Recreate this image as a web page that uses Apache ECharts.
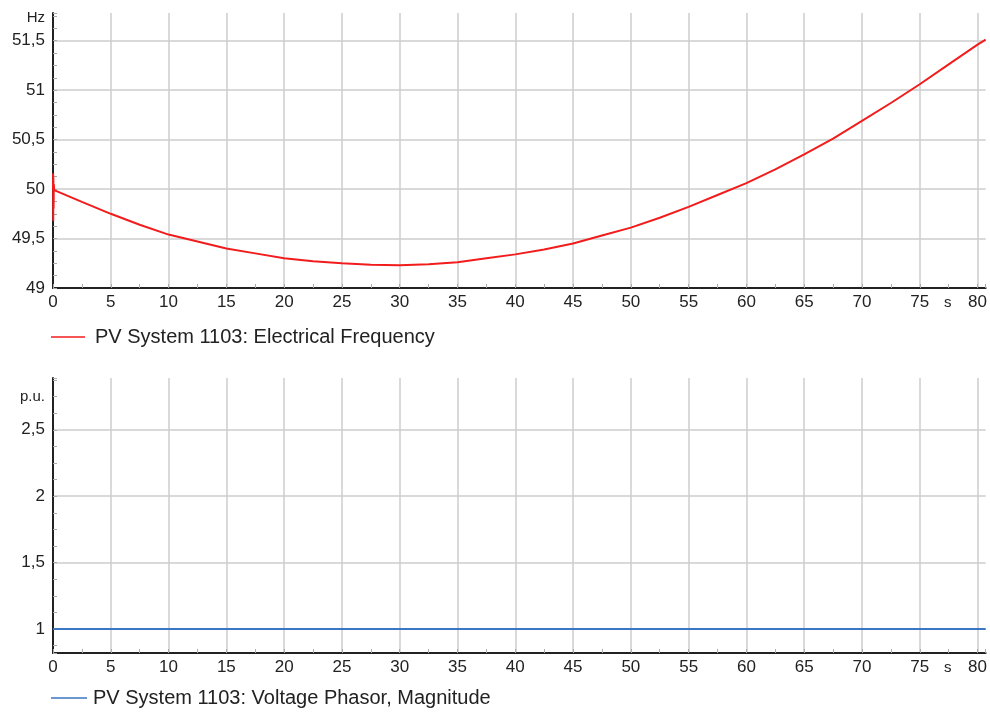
<!DOCTYPE html>
<html><head><meta charset="utf-8">
<script src="https://cdn.jsdelivr.net/npm/echarts@6/dist/echarts.min.js"></script>
<style>html,body{margin:0;padding:0;background:#fff}#c{width:990px;height:713px}</style>
</head><body><div id="c"></div>
<script>
// ---- data ----
const freqName = 'PV System 1103: Electrical Frequency';
const voltName = 'PV System 1103: Voltage Phasor, Magnitude';
const timeS  = [0, 0.01, 0.02, 0.03, 0.05, 0.07, 0.1, 2.5, 5, 7.5, 10, 12.5, 15, 17.5, 20, 22.5, 25, 27.5, 30, 32.5, 35, 37.5, 40, 42.5, 45, 47.5, 50, 52.5, 55, 57.5, 60, 62.5, 65, 67.5, 70, 72.5, 75, 77.5, 80, 80.7];
const freqHz = [50.0, 50.16, 49.68, 50.12, 49.8, 50.05, 49.99, 49.87, 49.75, 49.64, 49.54, 49.47, 49.40, 49.35, 49.30, 49.27, 49.25, 49.235, 49.23, 49.24, 49.26, 49.30, 49.34, 49.39, 49.45, 49.53, 49.61, 49.71, 49.82, 49.94, 50.06, 50.20, 50.35, 50.51, 50.69, 50.87, 51.06, 51.26, 51.46, 51.51];
const voltTimeS = [0, 20, 40, 60, 80.7];
const voltPU    = [1, 1, 1, 1, 1];
const xTickLabels = ['0','5','10','15','20','25','30','35','40','45','50','55','60','65','70','75','80'];
const freqTickLabels = ['49','49,5','50','50,5','51','51,5'];
const voltTickLabels = ['1','1,5','2','2,5'];

// ---- chart ----
const FONT = "'Liberation Sans', Arial, sans-serif";
const TXT = '#222';
const X_MAX = 80.7;
function multOf(v, step){ return Math.abs(v/step - Math.round(v/step)) < 1e-6; }
function fmtX(v){ if(!multOf(v,5)) return ''; const i = Math.round(v/5); return xTickLabels[i] !== undefined ? xTickLabels[i] : ''; }
function fmtY(labels, start){ return function(v){ if(!multOf(v,0.5)) return ''; const i = Math.round((v-start)/0.5); return labels[i] !== undefined ? labels[i] : ''; }; }
const freqData = timeS.map((t,i)=>[t,freqHz[i]]);
const voltData = voltTimeS.map((t,i)=>[t,voltPU[i]]);

function mainX(gi){
  return {gridIndex:gi, type:'value', min:0, max:X_MAX, interval:5,
    name:'s', nameLocation:'end', nameGap:-38,
    nameTextStyle:{color:TXT, fontFamily:FONT, fontSize:15, align:'center', verticalAlign:'top', padding:[7,0,0,0]},
    axisLine:{show:true, onZero:false, lineStyle:{color:'#222', width:2}},
    axisTick:{show:false},
    axisLabel:{color:TXT, fontFamily:FONT, fontSize:17, margin:6, showMaxLabel:false, formatter:fmtX},
    splitLine:{show:true, showMaxLine:false, showMinLine:false, lineStyle:{color:'#cccccc', width:1.5}}};
}
function minorX(gi){
  return {gridIndex:gi, type:'value', min:0, max:X_MAX, interval:2.5, position:'bottom',
    axisLine:{show:false}, axisLabel:{show:false}, splitLine:{show:false},
    axisTick:{show:true, inside:true, length:4, lineStyle:{color:'#aaaaaa'}}};
}
function mainY(gi, min, max, name, nameGap, labels, start){
  return {gridIndex:gi, type:'value', min:min, max:max, minInterval:0.5, maxInterval:0.5, splitNumber:5,
    name:name, nameLocation:'end', nameGap:nameGap,
    nameTextStyle:{color:TXT, fontFamily:FONT, fontSize:15, align:'right', verticalAlign:'middle', padding:[0,8,0,0]},
    axisLine:{show:true, onZero:false, lineStyle:{color:'#222', width:2}},
    axisTick:{show:false},
    axisLabel:{color:TXT, fontFamily:FONT, fontSize:17, margin:8, showMaxLabel:false, showMinLabel:true, formatter:fmtY(labels,start)},
    splitLine:{show:true, showMaxLine:false, showMinLine:false, lineStyle:{color:'#cccccc', width:1.5}}};
}
function minorY(gi, min, max){
  return {gridIndex:gi, type:'value', min:min, max:max, minInterval:0.125, maxInterval:0.125, splitNumber:20, position:'left',
    axisLine:{show:false}, axisLabel:{show:false}, splitLine:{show:false},
    axisTick:{show:true, inside:true, length:4, lineStyle:{color:'#aaaaaa'}}};
}

const chart = echarts.init(document.getElementById('c'), null, {renderer:'canvas'});
chart.setOption({
  backgroundColor:'#fff',
  animation:false,
  textStyle:{fontFamily:FONT},
  grid:[
    {left:53, right:2, top:13, height:275, containLabel:false},
    {left:53, right:2, top:378, height:275, containLabel:false}
  ],
  xAxis:[ mainX(0), minorX(0), mainX(1), minorX(1) ],
  yAxis:[
    mainY(0, 49, 51.78, 'Hz', -5, freqTickLabels, 49), minorY(0, 49, 51.78),
    mainY(1, 0.82, 2.89, 'p.u.', -19, voltTickLabels, 1), minorY(1, 0.82, 2.89)
  ],
  legend:[
    {data:[freqName], left:51, top:327, padding:0, icon:'rect', itemWidth:34, itemHeight:1.5, itemGap:10,
     textStyle:{color:TXT, fontFamily:FONT, fontSize:20, padding:[0,0,0,5]}},
    {data:[voltName], left:51, top:688, padding:0, icon:'rect', itemWidth:36, itemHeight:1.5, itemGap:10,
     textStyle:{color:TXT, fontFamily:FONT, fontSize:20, padding:[0,0,0,1]}}
  ],
  series:[
    {name:freqName, type:'line', xAxisIndex:0, yAxisIndex:0, data:freqData, symbol:'none', smooth:false,
     lineStyle:{color:'#f21c1c', width:2}, itemStyle:{color:'#f21c1c'}},
    {name:voltName, type:'line', xAxisIndex:2, yAxisIndex:2, data:voltData, symbol:'none',
     lineStyle:{color:'#3a76c4', width:2}, itemStyle:{color:'#3a76c4'}}
  ]
});
</script>
</body></html>
